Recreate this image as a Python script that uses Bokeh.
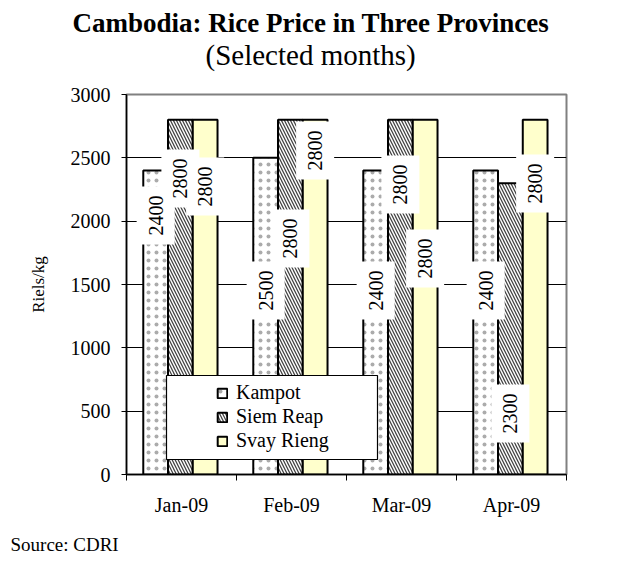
import math
from bokeh.plotting import figure
from bokeh.models import (Range1d, FixedTicker, Legend, LegendItem, Title,
                          BoxAnnotation, ColumnDataSource)
from bokeh.core.properties import value
from bokeh.embed import file_html
from bokeh.resources import INLINE

# ---- data ----
months = ["Jan-09", "Feb-09", "Mar-09", "Apr-09"]
provinces = ["Kampot", "Siem Reap", "Svay Rieng"]
kampot = [2400, 2500, 2400, 2400]
siem_reap = [2800, 2800, 2800, 2300]
svay_rieng = [2800, 2800, 2800, 2800]
y_ticks = [0, 500, 1000, 1500, 2000, 2500, 3000]
# heights (in Riels/kg units) at which each data label sits on the chart
kampot_label_at = [2045, 1453, 1453, 1453]
siem_label_at = [2337, 1863, 2290, 482]
svay_label_at = [2274, 2558, 1705, 2297]

FONT = "Liberation Serif"

p = figure(width=605, height=568, output_backend="svg", toolbar_location=None,
           x_range=Range1d(0, len(months)), y_range=Range1d(0, 3000),
           min_border_left=126, min_border_right=39, min_border_top=94,
           min_border_bottom=94)
p.background_fill_color = "white"
p.border_fill_color = "white"
p.outline_line_color = "#808080"
p.outline_line_width = 2

# axes
xa = p.xaxis[0]
xa.ticker = FixedTicker(ticks=[i + 0.5 for i in range(len(months))],
                        minor_ticks=list(range(len(months) + 1)))
xa.major_label_overrides = {i + 0.5: m for i, m in enumerate(months)}
xa.major_tick_out = 0
xa.major_tick_in = 0
xa.minor_tick_out = 6
xa.minor_tick_in = 0
xa.minor_tick_line_color = "black"
xa.axis_line_color = "black"
xa.axis_line_width = 1.5
xa.major_label_text_font = FONT
xa.major_label_text_font_size = "20px"
xa.major_label_text_color = "black"
xa.major_label_standoff = 13

ya = p.yaxis[0]
ya.ticker = FixedTicker(ticks=y_ticks)
ya.major_tick_out = 5
ya.major_tick_in = 0
ya.major_tick_line_color = "black"
ya.axis_line_color = "black"
ya.axis_line_width = 1.5
ya.major_label_text_font = FONT
ya.major_label_text_font_size = "20px"
ya.major_label_text_color = "black"
ya.major_label_standoff = 11
ya.axis_label = "Riels/kg"
ya.axis_label_text_font = FONT
ya.axis_label_text_font_size = "17px"
ya.axis_label_text_font_style = "normal"
ya.axis_label_text_color = "black"
ya.axis_label_standoff = 20

p.xgrid.visible = False
p.ygrid.ticker = FixedTicker(ticks=y_ticks)
p.ygrid.grid_line_color = "black"
p.ygrid.grid_line_width = 1

# bars
offsets = [-0.235, -0.01, 0.215]
bar_w = 0.225
series = [kampot, siem_reap, svay_rieng]
label_at = [kampot_label_at, siem_label_at, svay_label_at]
styles = [
    dict(fill_color="white", hatch_pattern="dot", hatch_scale=8,
         hatch_alpha=0.45, hatch_color="#444444"),
    dict(fill_color="white", hatch_pattern="left_diagonal_line", hatch_scale=6,
         hatch_weight=1.3, hatch_color="#444444"),
    dict(fill_color="#FFFFCC"),
]

renderers = []
label_sources = []
for k, vals in enumerate(series):
    xs = [i + 0.5 + offsets[k] for i in range(len(months))]
    src = ColumnDataSource(dict(x=xs, top=vals))
    r = p.vbar(x="x", top="top", width=bar_w, bottom=0, source=src,
               line_color="black", line_width=2, **styles[k])
    renderers.append(r)
    label_sources.append(ColumnDataSource(dict(
        x=xs, y=label_at[k], text=[str(v) for v in vals])))

# data labels: white boxes with vertical text
for src in label_sources:
    p.rect(x="x", y="y", width=38, height=58, width_units="screen",
           height_units="screen", source=src, fill_color="white",
           line_color=None)
for src in label_sources:
    p.text(x="x", y="y", text="text", angle=math.pi / 2, source=src,
           text_align="center", text_baseline="middle",
           text_font=value(FONT), text_font_size="20px", text_color="black")

# legend box + legend
box = BoxAnnotation(left=40, right=251, bottom=15, top=99,
                    left_units="screen", right_units="screen",
                    bottom_units="screen", top_units="screen",
                    fill_color="white", fill_alpha=1.0,
                    line_color="black", line_width=1.2, line_alpha=1.0)
p.add_layout(box)

legend = Legend(items=[LegendItem(label=provinces[k], renderers=[renderers[k]])
                       for k in range(3)],
                location=(85, 17), orientation="vertical",
                padding=5, spacing=1, margin=0,
                glyph_width=12, glyph_height=12, label_standoff=8,
                label_text_font=FONT, label_text_font_size="20px",
                label_text_color="black", label_height=22,
                background_fill_alpha=0, border_line_alpha=0)
p.add_layout(legend, "center")

# titles (stacked above the frame: first added sits nearest the frame)
p.add_layout(Title(text="(Selected months)", text_font=FONT,
                   text_font_size="29px", text_font_style="normal",
                   text_color="black", align="left", offset=79,
                   standoff=47), "above")
p.add_layout(Title(text="Cambodia: Rice Price in Three Provinces",
                   text_font=FONT, text_font_size="27px",
                   text_font_style="bold", text_color="black",
                   align="left", offset=-54, standoff=-48), "above")
# source note below the axis
p.add_layout(Title(text="Source: CDRI", text_font=FONT,
                   text_font_size="19px", text_font_style="normal",
                   text_color="black", align="left", offset=-116,
                   standoff=27), "below")

open("out.html", "w").write(file_html(p, INLINE))
